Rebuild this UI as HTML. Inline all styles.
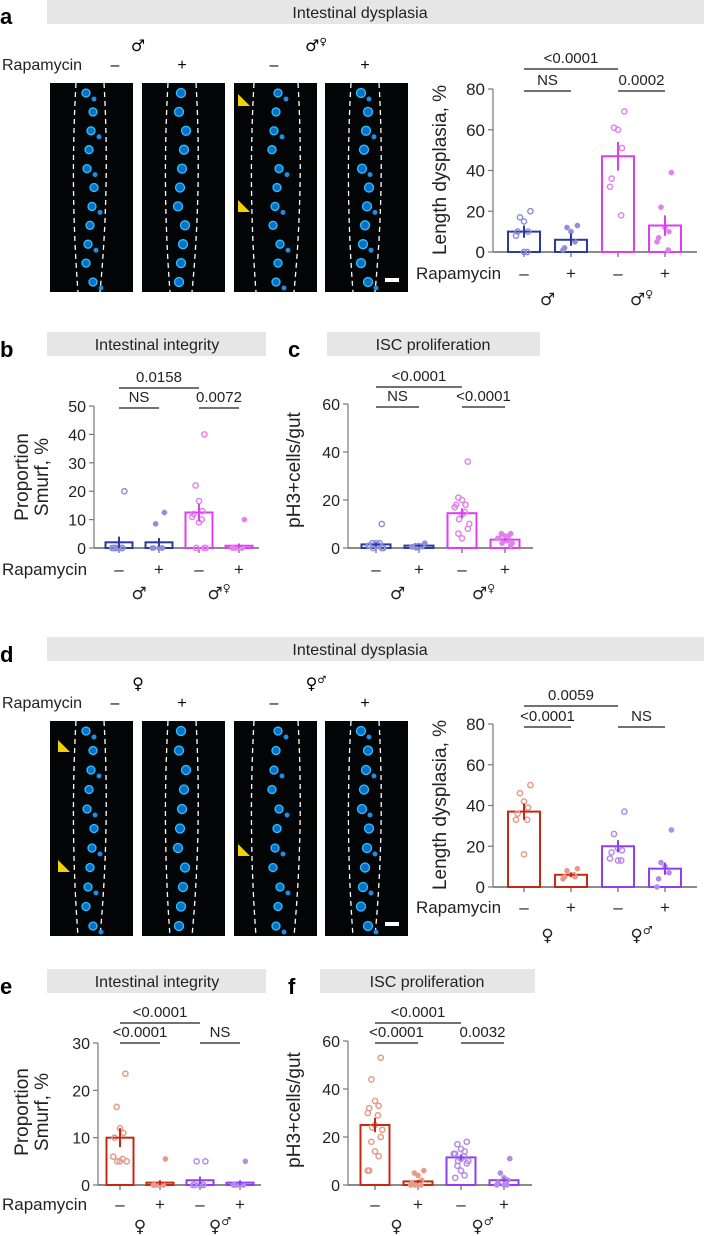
<!DOCTYPE html>
<html><head><meta charset="utf-8">
<style>
html,body{margin:0;padding:0;background:#fff;}
svg{display:block;font-family:"Liberation Sans","DejaVu Sans",sans-serif;}
</style></head>
<body>
<svg id="fig" width="704" height="1236" viewBox="0 0 704 1236" xmlns="http://www.w3.org/2000/svg">
<g>
<rect x="47" y="0" width="657" height="24" fill="#e6e6e6"/>
<text x="360" y="18" font-size="16" text-anchor="middle" fill="#222">Intestinal dysplasia</text>
<text x="0" y="24" font-size="22" font-weight="bold">a</text>
</g>
<g>
<rect x="47" y="637" width="657" height="24" fill="#e6e6e6"/>
<text x="360" y="655" font-size="16" text-anchor="middle" fill="#222">Intestinal dysplasia</text>
<text x="0" y="662" font-size="22" font-weight="bold">d</text>
</g>
<g>
<rect x="47" y="332" width="219" height="24" fill="#e6e6e6"/>
<text x="157" y="350" font-size="16" text-anchor="middle" fill="#222">Intestinal integrity</text>
<text x="0" y="357" font-size="22" font-weight="bold">b</text>
</g>
<g>
<rect x="327" y="332" width="213" height="24" fill="#e6e6e6"/>
<text x="433" y="350" font-size="16" text-anchor="middle" fill="#222">ISC proliferation</text>
<text x="288" y="357" font-size="22" font-weight="bold">c</text>
</g>
<g>
<rect x="47" y="969" width="219" height="24" fill="#e6e6e6"/>
<text x="157" y="987" font-size="16" text-anchor="middle" fill="#222">Intestinal integrity</text>
<text x="0" y="994" font-size="22" font-weight="bold">e</text>
</g>
<g>
<rect x="320" y="969" width="215" height="24" fill="#e6e6e6"/>
<text x="427" y="987" font-size="16" text-anchor="middle" fill="#222">ISC proliferation</text>
<text x="288" y="994" font-size="22" font-weight="bold">f</text>
</g>
</svg>
<script>
// ---- data ----
const groups = ["-", "+", "-", "+"];
const aMeans = [10, 6, 47, 13];
const aErr = [3, 3, 7, 5];
const aPts = [[20,17,15,10,10,8,0,0],[13,12,10,5,2,1],[69,61,60,51,36,32,18],[39,22,12,10,7,5,1]];
const aTicks = [0,20,40,60,80];
const bMeans = [2, 2, 12.5, 0.8];
const bErr = [2, 1.5, 3, 0.8];
const bPts = [[20,0,0,0,0,0,0,0,0],[12.5,8.5,0,0,0,0,0],[40,22,16.5,13,12,11,10,9,0,0,0],[10,0,0,0,0,0,0,0,0]];
const bTicks = [0,10,20,30,40,50];
const cMeans = [1.5, 1, 14.5, 3.5];
const cErr = [0.8, 0.5, 2, 0.6];
const cPts = [[10,2,2,2,1,1,1,1,0,0,0],[2,1,1,1,0.5,0.5,0.5,1,0],[36,21,20,18,18,17,15,14,12,10,8,6,4],[6,6,5,5,4,4,3,3,2,2,1]];
const cTicks = [0,20,40,60];
const dMeans = [37, 6, 20, 9];
const dErr = [4, 1, 3, 3];
const dPts = [[50,46,42,39,36,33,33,16],[9,8,6,5,5,4,6],[37,26,19,18,17,14,13,13],[28,12,10,7,4,0]];
const eMeans = [10, 0.5, 1, 0.5];
const eErr = [2, 0.5, 0.8, 0.5];
const ePts = [[23.5,16.5,12,11,10,6,5.5,5,5,5],[5.5,0,0,0,0,0],[5,5,0,0,0,0,0],[5,0,0,0,0,0]];
const eTicks = [0,10,20,30];
const fMeans = [25, 1.5, 11.5, 2];
const fErr = [3, 0.6, 1.2, 0.8];
const fPts = [[53,44,35,33,32,30,29,25,24,23,20,18,14,12,6,6],[6,5,4,2,1,0,0,0,0],[18,17,15,14,13,13,12,11,10,10,9,8,6,4,3],[11,5,3,2,1,0,0,0]];

const NS = "http://www.w3.org/2000/svg";
const svg = document.getElementById('fig');
function el(tag, attrs, parent, txt){
  const e = document.createElementNS(NS, tag);
  for (const k in attrs) e.setAttribute(k, attrs[k]);
  if (txt !== undefined) e.textContent = txt;
  (parent || svg).appendChild(e);
  return e;
}
const BLUE = ["#2b3b9c","#8c90dc"], MAG = ["#dc3ff0","#e283ec"], RED = ["#c22a14","#e89a8a"], PUR = ["#8f3ff2","#b48be6"];

function chart(p){
  const g = el('g', {});
  
  
  const maxV = p.ticks[p.ticks.length-1];
  const y = v => p.y0 - (v / maxV) * (p.y0 - p.yTop);
  const ya = el('line', {x1:p.ax, x2:p.ax, y1:p.yTop, y2:p.y0, stroke:'#777', 'stroke-width':1.2}, g);
  
  
  p.ticks.forEach(t => {
    el('line', {x1:p.ax-5, x2:p.ax, y1:y(t), y2:y(t), stroke:'#777', 'stroke-width':1.2}, g);
    const tl = el('text', {x:p.ax-8, y:y(t)+6, 'font-size':p.fs||17, 'text-anchor':'end', fill:'#222'}, g, t);
    
    
  });
  const xa = el('line', {x1:p.ax, x2:p.axEnd, y1:p.y0, y2:p.y0, stroke:'#666', 'stroke-width':1.6}, g);
  
  
  const tt = el('text', {transform:`translate(${p.titleX},${p.titleY}) rotate(-90)`, 'font-size':p.tfs||19, 'text-anchor':'middle', fill:'#222'}, g);
  
  
  p.title.forEach((line,i) => el('tspan', {x:0, dy: i===0 ? (p.title.length>1 ? -10 : 0) : 20}, tt, line));
  p.means.forEach((m,i) => {
    const cx = p.cx[i];
    const col = p.cols[i];
    el('line', {x1:cx, x2:cx, y1:p.y0, y2:p.y0+5, stroke:'#666', 'stroke-width':1.2}, g);
    const bar = el('rect', {x:cx-p.bw/2, y:y(m), width:p.bw, height:Math.max(0,p.y0-y(m)), fill:'none', stroke:col[0], 'stroke-width':2}, g);
    
    
    const open = (i % 2 === 0);
    const pts = p.pts[i];
    pts.forEach((v,j) => {
      const off = ((j % 5) - 2) * (p.bw/8) * (j%2 ? 1 : -0.8);
      const dot = el('circle', {cx:cx+off, cy:y(v), r:2.6, fill: open ? 'none' : col[1], stroke: col[1], 'stroke-width': open ? 1.5 : 0.5}, g);
      
      
    });
    const e = p.err[i];
    const eb = el('line', {x1:cx, x2:cx, y1:y(m+e), y2:y(Math.max(0,m-e)), stroke:col[0], 'stroke-width':2}, g);
    
    
    el('line', {x1:cx-4, x2:cx+4, y1:y(m), y2:y(m), stroke:col[0], 'stroke-width':1.5}, g);
    el('text', {x:cx, y:p.rapY, 'font-size':17, 'text-anchor':'middle', fill:'#222'}, g, groups[i]==='-' ? '\u2013' : '+');
  });
  if (p.rapX !== undefined){
    const r = el('text', {x:p.rapX, y:p.rapY, 'font-size':17, fill:'#222'}, g, 'Rapamycin');
    
    
  }
  [[0,1],[2,3]].forEach((pr,k) => {
    const mx = (p.cx[pr[0]]+p.cx[pr[1]])/2;
    const s = el('text', {x:mx, y:p.sexY, 'font-size':17, 'text-anchor':'middle', fill:'#222', 'font-family':'DejaVu Sans, sans-serif'}, g);
    
    
    s.textContent = p.sex[k][0];
    if (p.sex[k][1]) el('tspan', {dy:-7, 'font-size':11}, s, p.sex[k][1]);
  });
  p.sig.forEach(sg => {
    const lx1 = p.cx[sg[0]], lx2 = p.cx[sg[1]];
    const ly = sg[3];
    el('line', {x1:lx1, x2:lx2, y1:ly, y2:ly, stroke:'#444', 'stroke-width':1.5}, g);
    const st = el('text', {x:(lx1+lx2)/2, y:ly-6, 'font-size':15, 'text-anchor':'middle', fill:'#222'}, g, sg[2]);
    
    
  });
}

const cxA = [524,571,618,665];
chart({name:'chart-a', key:'a', ax:493, axEnd:697, y0:252, yTop:89, ticks:aTicks, means:aMeans, err:aErr, pts:aPts, cx:cxA, bw:32,
  cols:[BLUE,BLUE,MAG,MAG], title:['Length dysplasia, %'], titleX:446, titleY:170, rapX:416, rapY:279, sexY:305,
  sex:[['\u2642',''],['\u2642','\u2640']], sig:[[0,2,'<0.0001',69],[0,1,'NS',91],[2,3,'0.0002',91]]});
chart({name:'chart-d', key:'d', ax:493, axEnd:697, y0:887, yTop:724, ticks:aTicks, means:dMeans, err:dErr, pts:dPts, cx:cxA, bw:32,
  cols:[RED,RED,PUR,PUR], title:['Length dysplasia, %'], titleX:446, titleY:805, rapX:416, rapY:913, sexY:941,
  sex:[['\u2640',''],['\u2640','\u2642']], sig:[[0,2,'0.0059',706],[0,1,'<0.0001',727],[2,3,'NS',727]]});
chart({name:'chart-b', key:'b', ax:94, axEnd:259, y0:548, yTop:406, ticks:bTicks, means:bMeans, err:bErr, pts:bPts, cx:[119,159,199,239], bw:27, fs:16,
  cols:[BLUE,BLUE,MAG,MAG], title:['Proportion','Smurf, %'], titleX:38, titleY:477, rapX:2, rapY:575, sexY:599,
  sex:[['\u2642',''],['\u2642','\u2640']], sig:[[0,2,'0.0158',388],[0,1,'NS',408],[2,3,'0.0072',408]]});
chart({name:'chart-c', key:'c', ax:348, axEnd:533, y0:548, yTop:404, ticks:cTicks, means:cMeans, err:cErr, pts:cPts, cx:[376,419,462,505], bw:29, fs:16,
  cols:[BLUE,BLUE,MAG,MAG], title:['pH3+cells/gut'], titleX:300, titleY:470, rapY:575, sexY:599,
  sex:[['\u2642',''],['\u2642','\u2640']], sig:[[0,2,'<0.0001',387],[0,1,'NS',407],[2,3,'<0.0001',407]]});
chart({name:'chart-e', key:'e', ax:98, axEnd:261, y0:1185, yTop:1043, ticks:eTicks, means:eMeans, err:eErr, pts:ePts, cx:[120,160,200,240], bw:27, fs:16,
  cols:[RED,RED,PUR,PUR], title:['Proportion','Smurf, %'], titleX:38, titleY:1112, rapX:2, rapY:1210, sexY:1232,
  sex:[['\u2640',''],['\u2640','\u2642']], sig:[[0,2,'<0.0001',1023],[0,1,'<0.0001',1043],[2,3,'NS',1043]]});
chart({name:'chart-f', key:'f', ax:348, axEnd:532, y0:1185, yTop:1041, ticks:cTicks, means:fMeans, err:fErr, pts:fPts, cx:[375,418,461,504], bw:29, fs:16,
  cols:[RED,RED,PUR,PUR], title:['pH3+cells/gut'], titleX:300, titleY:1110, rapY:1210, sexY:1232,
  sex:[['\u2640',''],['\u2640','\u2642']], sig:[[0,2,'<0.0001',1023],[0,1,'<0.0001',1043],[2,3,'0.0032',1043]]});

function micro(top, bottom, sexA, sexB, arrows, name){
  const g = el('g', {});
  
  
  const xs = [50,142,234,325];
  const h = bottom - top;
  xs.forEach((x,i) => {
    const im = el('rect', {x:x, y:top, width:83, height:h, fill:'#020406'}, g);
    
    
    const c = x + 40 + (i===2 ? 2 : 0);
    const w = (i===2) ? 22 : 14;
    el('path', {d:`M${c-w} ${top} Q${c-w-6} ${top+h/2} ${c-w+2} ${bottom}`, fill:'none', stroke:'#fff', 'stroke-width':1.3, 'stroke-dasharray':'5 4'}, g);
    el('path', {d:`M${c+w} ${top} Q${c+w+6} ${top+h/2} ${c+w-4} ${bottom}`, fill:'none', stroke:'#fff', 'stroke-width':1.3, 'stroke-dasharray':'5 4'}, g);
    for (let k=0;k<11;k++){
      const yy = top + 10 + k*(h-20)/10;
      const dx = ((k*7+i*3)%9 - 4);
      el('circle', {cx:c+dx, cy:yy, r: (i%2? 4.5:4), fill:'#0a6fc8', stroke:'#28c4ff', 'stroke-width':1.3}, g);
      if (i!==1 && k%2===0) el('circle', {cx:c+dx+8, cy:yy+6, r:2.5, fill:'#1a8fe6'}, g);
    }
  });
  el('rect', {x:385, y:bottom-14, width:14, height:4, fill:'#fff'}, g);
  arrows.forEach(a => el('polygon', {points:`${a[0]},${a[1]-6} ${a[0]+12},${a[1]+6} ${a[0]},${a[1]+6}`, fill:'#f2d200'}, g));
  const lbl = el('text', {x:2, y:top-13, 'font-size':16, fill:'#222'}, g, 'Rapamycin');
  
  
  [115,182,274,365].forEach((x,i) => el('text', {x:x, y:top-13, 'font-size':16, 'text-anchor':'middle'}, g, i%2===0 ? '\u2013' : '+'));
  el('text', {x:138, y:top-32, 'font-size':16, 'text-anchor':'middle', 'font-family':'DejaVu Sans, sans-serif'}, g, sexA[0]);
  const s2 = el('text', {x:316, y:top-32, 'font-size':16, 'text-anchor':'middle', 'font-family':'DejaVu Sans, sans-serif'}, g, sexB[0]);
  el('tspan', {dy:-6, 'font-size':10}, s2, sexB[1]);
}
micro(83, 292, ['\u2642'], ['\u2642','\u2640'], [[238,100],[238,206]], 'images-a');
micro(721, 936, ['\u2640'], ['\u2640','\u2642'], [[58,746],[58,866],[238,850]], 'images-d');
</script>
</body></html>
